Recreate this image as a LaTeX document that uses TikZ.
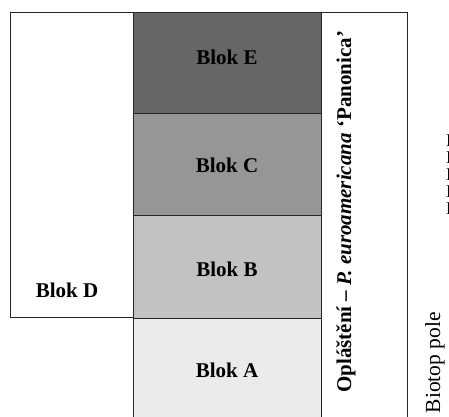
\documentclass[tikz,border=0pt]{standalone}
\usepackage{fontspec}
\setmainfont{Liberation Serif}
\definecolor{gE}{HTML}{666666}
\definecolor{gC}{HTML}{969696}
\definecolor{gB}{HTML}{C2C2C2}
\definecolor{gA}{HTML}{EBEBEB}
\begin{document}
\begin{tikzpicture}[x=1pt,y=-1pt,
  blk/.style={draw=black!85, line width=0.8pt, anchor=north west, inner sep=0pt, outer sep=0pt},
  lbl/.style={font=\fontsize{21}{25}\selectfont\bfseries},
  rot/.style={font=\fontsize{21}{25}\selectfont\bfseries, rotate=90},
  side/.style={font=\fontsize{18}{20}\selectfont, anchor=base west, inner sep=0pt}
]
\useasboundingbox (0,0) rectangle (449,416);
\clip (0,0) rectangle (449,416);
% right box
\node[blk, fill=white, minimum width=86pt, minimum height=420pt] (R) at (321,12) {};
% centre column
\node[blk, fill=gA, minimum width=188pt, minimum height=110pt] (A) at (133,318) {};
\node[blk, fill=gB, minimum width=188pt, minimum height=103pt] (B) at (133,215) {};
\node[blk, fill=gC, minimum width=188pt, minimum height=102pt] (C) at (133,113) {};
\node[blk, fill=gE, minimum width=188pt, minimum height=101pt] (E) at (133,12) {};
% left box
\node[blk, fill=white, minimum width=123pt, minimum height=305pt] (D) at (10,12) {};
% labels
\node[lbl] (El) at (227,57) {Blok E};
\node[lbl] (Cl) at (227,165) {Blok C};
\node[lbl] (Bl) at (227,269) {Blok B};
\node[lbl] (Al) at (227,370) {Blok A};
\node[lbl] (Dl) at (67,290) {Blok D};
\node[rot, anchor=base west, inner sep=0pt] (O) at (351,393)
  {Opláštění – \textit{P. euroamericana} ‘Panonica’};
\node[font=\fontsize{21.5}{25}\selectfont, rotate=90, anchor=base east, inner sep=0pt] (bp) at (440,312) {Biotop pole};
\node[side] (s1) at (446,146) {B};
\node[side] (s2) at (446,163) {B};
\node[side] (s3) at (446,180) {B};
\node[side] (s4) at (446,197) {B};
\node[side] (s5) at (446,214) {B};
\end{tikzpicture}
\end{document}
